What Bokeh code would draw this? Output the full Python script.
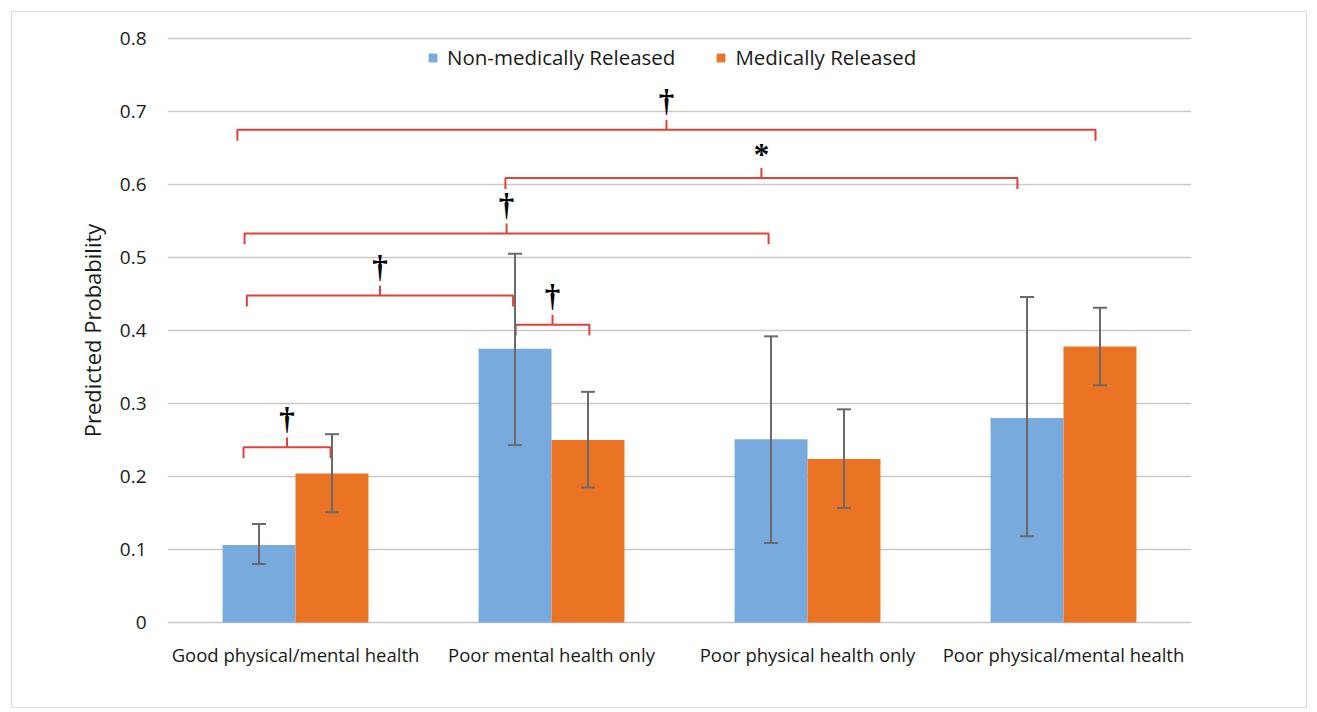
from bokeh.plotting import figure
from bokeh.models import (ColumnDataSource, Whisker, TeeHead, Range1d, FixedTicker,
                          Legend, LegendItem)
from bokeh.core.properties import value
from bokeh.embed import file_html
from bokeh.resources import INLINE

# ---------------- data ----------------
categories = ["Good physical/mental health", "Poor mental health only",
              "Poor physical health only", "Poor physical/mental health"]
series_names = ["Non-medically Released", "Medically Released"]

nonmed = [0.106, 0.375, 0.251, 0.280]
nonmed_lo = [0.080, 0.243, 0.109, 0.118]
nonmed_hi = [0.135, 0.505, 0.392, 0.446]

med = [0.204, 0.250, 0.224, 0.378]
med_lo = [0.151, 0.185, 0.157, 0.325]
med_hi = [0.258, 0.316, 0.292, 0.431]

y_ticks = [0, 0.1, 0.2, 0.3, 0.4, 0.5, 0.6, 0.7, 0.8]
y_tick_labels = ["0", "0.1", "0.2", "0.3", "0.4", "0.5", "0.6", "0.7", "0.8"]

# significance brackets: (left, right, level, symbol) in category/value units
bracket_left = [0.297, 0.31, 1.36, 0.301, 1.32, 0.273]
bracket_right = [0.637, 1.35, 1.648, 2.348, 3.32, 3.625]
bracket_level = [0.240, 0.448, 0.408, 0.533, 0.609, 0.675]
bracket_symbol = ["\u2020", "\u2020", "\u2020", "\u2020", "*", "\u2020"]

# ---------------- styling ----------------
BLUE = "#79aadd"
ORANGE = "#eb7424"
RED = "#e4403a"
GRID = "#cdc6c6"
FONT = "Open Sans"
BW = 0.285
PAD = 0.8 * 2 / 584  # 2px breathing room so the 0 and 0.8 gridlines show

p = figure(frame_width=1024, frame_height=588, output_backend="svg",
           toolbar_location=None, x_range=Range1d(0, len(categories)),
           y_range=Range1d(-PAD, y_ticks[-1] + PAD),
           min_border_left=155, min_border_right=115, min_border_top=24,
           min_border_bottom=83)
p.styles = {"border": "1px solid #dcdcdc", "margin-left": "11px", "margin-top": "11px"}
p.background_fill_color = "white"
p.border_fill_color = "white"
p.outline_line_color = None

centers = [i + 0.5 for i in range(len(categories))]
x_nm = [c - BW / 2 for c in centers]
x_m = [c + BW / 2 for c in centers]

r1 = p.vbar(x=x_nm, top=nonmed, bottom=0, width=BW, fill_color=BLUE, line_color=None)
r2 = p.vbar(x=x_m, top=med, bottom=0, width=BW, fill_color=ORANGE, line_color=None)

for xs, lo, hi in [(x_nm, nonmed_lo, nonmed_hi), (x_m, med_lo, med_hi)]:
    src = ColumnDataSource(dict(x=xs, lo=lo, hi=hi))
    w = Whisker(source=src, base="x", lower="lo", upper="hi",
                line_color="#6a6a6a", line_width=2,
                upper_head=TeeHead(size=14, line_color="#6a6a6a", line_width=2),
                lower_head=TeeHead(size=14, line_color="#6a6a6a", line_width=2),
                level="overlay")
    p.add_layout(w)

# brackets
drop = 0.015
rise = 0.0135
bx, by = [], []
cx, cy = [], []
tx, ty, tt = [], [], []
for l, r, lev, s in zip(bracket_left, bracket_right, bracket_level, bracket_symbol):
    bx.append([l, l, r, r])
    by.append([lev - drop, lev, lev, lev - drop])
    m = (l + r) / 2
    cx.append([m, m])
    cy.append([lev, lev + rise])
    tx.append(m)
    ty.append(lev + (0.040 if s != "*" else 0.032))
    tt.append(s)
p.multi_line(xs=bx, ys=by, line_color=RED, line_width=2)
p.multi_line(xs=cx, ys=cy, line_color=RED, line_width=2)
p.text(x=tx, y=ty, text=tt, text_align="center", text_baseline="middle",
       text_font=value("Liberation Serif"), text_font_style="bold",
       text_font_size="31px", text_color="black")

# axes
p.xaxis.ticker = FixedTicker(ticks=centers)
p.xaxis.major_label_overrides = {c: n for c, n in zip(centers, categories)}
p.yaxis.ticker = FixedTicker(ticks=y_ticks)
p.yaxis.major_label_overrides = {t: s for t, s in zip(y_ticks, y_tick_labels)}
for ax in (p.xaxis, p.yaxis):
    ax.axis_line_color = None
    ax.major_tick_line_color = None
    ax.minor_tick_line_color = None
    ax.major_label_text_font = FONT
    ax.major_label_text_color = "#1a1a1a"
p.xaxis.major_label_text_font_size = "18.5px"
p.xaxis.major_label_standoff = 11
p.yaxis.major_label_text_font_size = "19px"
p.yaxis.major_label_standoff = 15
p.yaxis.axis_label = "Predicted Probability"
p.yaxis.axis_label_text_font = FONT
p.yaxis.axis_label_text_font_size = "22px"
p.yaxis.axis_label_text_font_style = "normal"
p.yaxis.axis_label_text_color = "#1a1a1a"
p.yaxis.axis_label_standoff = 10

p.xgrid.grid_line_color = None
p.ygrid.grid_line_color = GRID
p.ygrid.grid_line_width = 1.6

legend = Legend(items=[LegendItem(label=series_names[0], renderers=[r1]),
                       LegendItem(label=series_names[1], renderers=[r2])],
                orientation="horizontal", location=(260, 553),
                label_text_font=FONT, label_text_font_size="20.5px",
                label_text_color="#1a1a1a",
                glyph_width=11, glyph_height=11, label_standoff=9, spacing=40,
                padding=0, margin=0, border_line_color=None,
                background_fill_alpha=0)
p.add_layout(legend)

open("out.html", "w").write(file_html(p, INLINE))
